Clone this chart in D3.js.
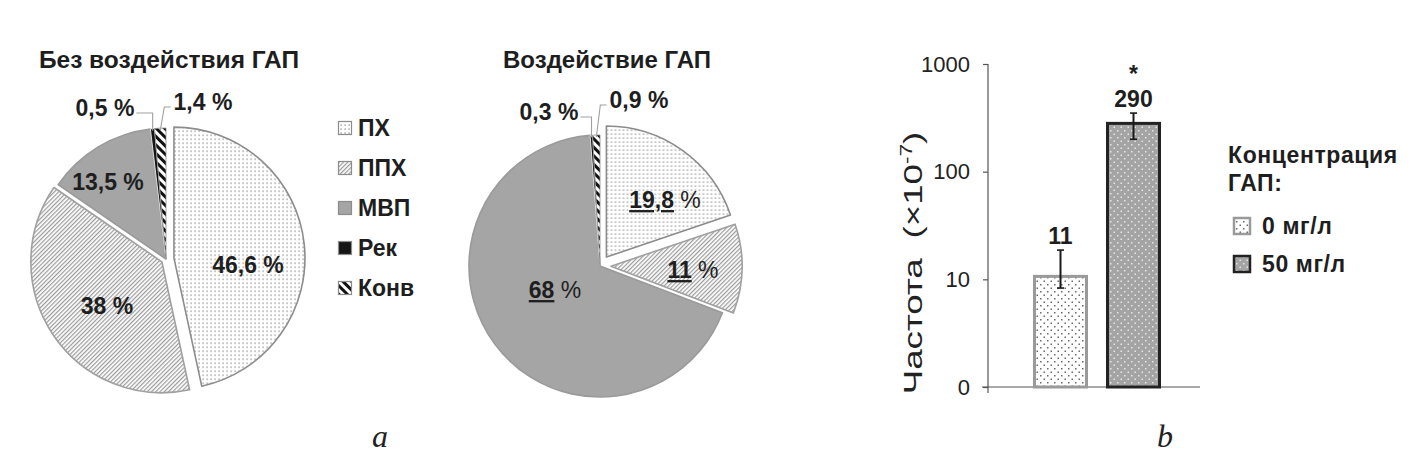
<!DOCTYPE html>
<html><head><meta charset="utf-8">
<script src="https://cdn.jsdelivr.net/npm/d3@7"></script>
<style>
html,body{margin:0;padding:0;background:#fff;}
svg{display:block;font-family:"Liberation Sans",Arial,sans-serif;}
</style></head>
<body>
<svg id="c" width="1417" height="455"></svg>
<script>
// ---------- DATA ----------
const categories = ["ПХ", "ППХ", "МВП", "Рек", "Конв"];
const withoutGAP = [46.6, 38, 13.5, 0.5, 1.4];
const withGAP = [19.8, 11, 68, 0.3, 0.9];
const pieTitles = ["Без воздействия ГАП", "Воздействие ГАП"];
const underlinedWith = [true, true, true, false, false];

const barCategories = ["0 мг/л", "50 мг/л"];
const barValues = [11, 290];
const barErrLow = [8.3, 200];
const barErrHigh = [18.7, 350];
const barLabels = ["11", "290"];
const barSignif = ["", "*"];
const yTickValues = [1, 10, 100, 1000];
const yTickLabels = ["0", "10", "100", "1000"];
const legendTitle = ["Концентрация", "ГАП:"];
const panelLetters = ["a", "b"];

// ---------- STYLE ----------
const svg = d3.select("#c");
const defs = svg.append("defs");
const ink = "#1e1e1e";

function dotPattern(id, bg, dot, step, r, stagger) {
  const p = defs.append("pattern").attr("id", id).attr("patternUnits", "userSpaceOnUse")
    .attr("width", step).attr("height", step);
  p.append("rect").attr("width", step).attr("height", step).attr("fill", bg);
  p.append("rect").attr("x", 0.5).attr("y", 0.5).attr("width", r).attr("height", r).attr("fill", dot);
  if (stagger) p.append("rect").attr("x", step / 2 + 0.5).attr("y", step / 2 + 0.5).attr("width", r).attr("height", r).attr("fill", dot);
}
function linePattern(id, bg, col, step, w, angle) {
  const p = defs.append("pattern").attr("id", id).attr("patternUnits", "userSpaceOnUse")
    .attr("width", step).attr("height", step).attr("patternTransform", `rotate(${angle})`);
  p.append("rect").attr("width", step).attr("height", step).attr("fill", bg);
  p.append("rect").attr("x", 0).attr("y", 0).attr("width", w).attr("height", step).attr("fill", col);
}
dotPattern("pPX", "#fff", "#7a7a7a", 4, 1.2, false);
linePattern("pPPX", "#fff", "#9a9a9a", 3, 1.2, 45);
linePattern("pKonv", "#fff", "#111", 6, 3, -45);
dotPattern("pBar0", "#fff", "#6a6a6a", 7, 1.5, true);
dotPattern("pBar1", "#a4a4a4", "#e6e6e6", 7, 1.5, true);

const sliceFill = ["url(#pPX)", "url(#pPPX)", "#a5a5a5", "#141414", "url(#pKonv)"];
const sliceStroke = ["#8c8c8c", "#a0a0a0", "#9a9a9a", "#ffffff", "#8c8c8c"];

const pies = [
  { values: withoutGAP, cx: 166, cy: 259, r: 131, explode: [8, 5, 0, 0, 0], title: pieTitles[0], titleX: 169, titleSize: 24.5,
    labelPos: [[248, 265], [107, 306], [108, 182], [105, 108], [203, 102]], outside: [false, false, false, true, true], underline: [false, false, false, false, false] },
  { values: withGAP, cx: 600, cy: 266, r: 131, explode: [11, 11, 0, 0, 0], title: pieTitles[1], titleX: 607, titleSize: 24,
    labelPos: [[665, 200], [693, 270], [555, 290], [549, 112], [639, 100]], outside: [false, false, false, true, true], underline: underlinedWith }
];

const fmt = v => String(v).replace(".", ",");

pies.forEach(P => {
  const g = svg.append("g");
  g.append("text").attr("x", P.titleX).attr("y", 68).attr("text-anchor", "middle")
    .attr("font-size", P.titleSize).attr("font-weight", "bold").attr("fill", ink).text(P.title);
  const arc = d3.arc().innerRadius(0).outerRadius(P.r);
  const pa = d3.pie().sort(null).value(d => d)(P.values);
  pa.forEach((a, i) => {
    const mid = (a.startAngle + a.endAngle) / 2;
    const dx = Math.sin(mid) * P.explode[i], dy = -Math.cos(mid) * P.explode[i];
    g.append("path").attr("d", arc(a))
      .attr("transform", `translate(${P.cx + dx},${P.cy + dy})`)
      .attr("fill", sliceFill[i]).attr("stroke", sliceStroke[i]).attr("stroke-width", i >= 3 ? 0.8 : 1.6)
      .attr("stroke-linejoin", "round");
  });
  pa.forEach((a, i) => {
    const [lx, ly] = P.labelPos[i];
    const t = g.append("text").attr("x", lx).attr("y", ly).attr("dy", "0.35em")
      .attr("text-anchor", "middle").attr("font-size", 23).attr("fill", ink);
    if (P.underline[i]) {
      t.append("tspan").attr("font-weight", "bold").attr("text-decoration", "underline").text(fmt(P.values[i]));
      t.append("tspan").attr("font-weight", "normal").text(" %");
    } else {
      t.attr("font-weight", "bold").text(fmt(P.values[i]) + " %");
    }
    if (P.outside[i]) {
      const mid = (a.startAngle + a.endAngle) / 2;
      const ex = P.cx + Math.sin(mid) * (P.r - 2), ey = P.cy - Math.cos(mid) * (P.r - 2);
      const tw = t.node().getComputedTextLength();
      const sx = lx < P.cx ? lx + tw / 2 + 2 : lx - tw / 2 - 3;
      const kx = lx < P.cx ? ex : ex + 4;
      g.append("polyline").attr("points", `${sx},${ly + 5} ${kx},${ly + 5} ${ex},${ey}`)
        .attr("fill", "none").attr("stroke", "#a0a0a0").attr("stroke-width", 1.1);
    }
  });
});

// legend a
const legA = svg.append("g");
categories.forEach((c, i) => {
  const y = 128 + i * 40;
  legA.append("rect").attr("x", 338.5).attr("y", y - 6.5).attr("width", 13).attr("height", 13)
    .attr("fill", sliceFill[i]).attr("stroke", "#8c8c8c").attr("stroke-width", 1.2);
  legA.append("text").attr("x", 358).attr("y", y).attr("dy", "0.36em").attr("font-size", 23)
    .attr("font-weight", "bold").attr("fill", ink).text(c);
});

// ---------- BAR CHART ----------
const y = d3.scaleLog().domain([1, 1000]).range([387, 64]);
const x = d3.scaleBand().domain(barCategories).range([1033, 1161]).paddingInner(18 / 73).paddingOuter(0);
const gb = svg.append("g");
const yAxis = d3.axisLeft(y).tickValues(yTickValues).tickFormat((d, i) => yTickLabels[i]).tickSize(5).tickPadding(13);
const ya = gb.append("g").attr("transform", "translate(988,0)").call(yAxis);
ya.select(".domain").attr("stroke", "#555").attr("stroke-width", 1.2).attr("d", "M0,64V393");
ya.selectAll(".tick line").attr("stroke", "#555").attr("stroke-width", 1.2);
ya.selectAll(".tick text").attr("font-size", 22).attr("fill", "#222").attr("font-family", "Liberation Sans, Arial, sans-serif");
gb.append("line").attr("x1", 982).attr("x2", 1200).attr("y1", y(1)).attr("y2", y(1)).attr("stroke", "#555").attr("stroke-width", 1.2);

const barFill = ["url(#pBar0)", "url(#pBar1)"];
const barStroke = ["#9a9a9a", "#222"];
barCategories.forEach((c, i) => {
  gb.append("rect").attr("x", x(c) + 1.5).attr("y", y(barValues[i]) + 1.5)
    .attr("width", x.bandwidth() - 3).attr("height", y(1) - y(barValues[i]) - 1.5)
    .attr("fill", barFill[i]).attr("stroke", barStroke[i]).attr("stroke-width", 3);
  const cx = x(c) + x.bandwidth() / 2;
  gb.append("line").attr("x1", cx).attr("x2", cx).attr("y1", y(barErrHigh[i])).attr("y2", y(barErrLow[i]))
    .attr("stroke", "#1a1a1a").attr("stroke-width", 2);
  [barErrHigh[i], barErrLow[i]].forEach(v => gb.append("line").attr("x1", cx - 3.5).attr("x2", cx + 3.5)
    .attr("y1", y(v)).attr("y2", y(v)).attr("stroke", "#1a1a1a").attr("stroke-width", 1.6));
  gb.append("text").attr("x", cx).attr("y", y(barErrHigh[i]) - 6).attr("text-anchor", "middle")
    .attr("font-size", 23).attr("font-weight", "bold").attr("fill", ink).text(barLabels[i]);
  if (barSignif[i]) gb.append("text").attr("x", cx).attr("y", y(barErrHigh[i]) - 31).attr("text-anchor", "middle")
    .attr("font-size", 23).attr("font-weight", "bold").attr("fill", ink).text(barSignif[i]);
});

// y axis title
const yt = gb.append("text").attr("text-anchor", "middle")
  .attr("font-size", 26).attr("fill", "#222");
yt.append("tspan").text("Частота");
yt.append("tspan").attr("dx", 14).text("(×10");
yt.append("tspan").attr("dy", -10).attr("font-size", 16).text("-7");
yt.append("tspan").attr("dy", 10).text(")");
const ytLen = yt.node().getComputedTextLength();
yt.attr("transform", `translate(922,263) rotate(-90) scale(${243 / ytLen},1)`);

// legend b
const legB = svg.append("g");
legendTitle.forEach((t, i) => legB.append("text").attr("x", 1228).attr("y", 163 + i * 28)
  .attr("font-size", 23).attr("font-weight", "bold").attr("letter-spacing", 0.6).attr("fill", ink).text(t));
barCategories.forEach((c, i) => {
  const yy = 226 + i * 38;
  legB.append("rect").attr("x", 1234).attr("y", yy - 8).attr("width", 16).attr("height", 16)
    .attr("fill", barFill[i]).attr("stroke", barStroke[i]).attr("stroke-width", 2.5);
  legB.append("text").attr("x", 1262).attr("y", yy).attr("dy", "0.36em").attr("font-size", 23)
    .attr("font-weight", "bold").attr("letter-spacing", 0.6).attr("fill", ink).text(c);
});

// panel letters
[[380, 447], [1165, 447]].forEach((p, i) => svg.append("text").attr("x", p[0]).attr("y", p[1])
  .attr("text-anchor", "middle").attr("font-family", "Liberation Serif, DejaVu Serif, serif")
  .attr("font-style", "italic").attr("font-size", 32).attr("fill", "#222").text(panelLetters[i]));
</script>
</body></html>
